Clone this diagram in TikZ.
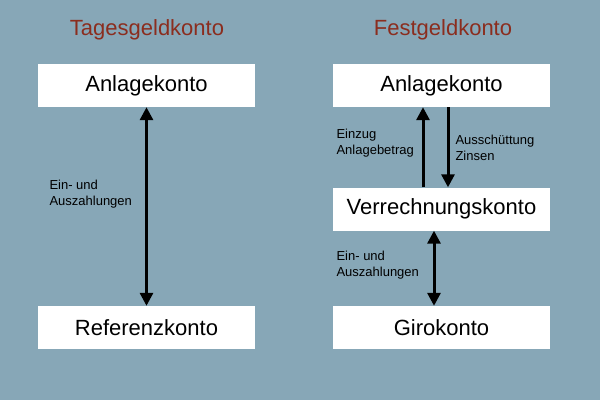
\documentclass[tikz,border=0pt]{standalone}
\usepackage{fontspec}
\setmainfont{Liberation Sans}
\usetikzlibrary{arrows.meta}
\definecolor{bg}{HTML}{87A7B7}
\definecolor{tit}{HTML}{8B2D1E}
\begin{document}
\begin{tikzpicture}[x=1pt,y=-1pt,
  box/.style={fill=white,draw=none,minimum width=217pt,minimum height=43pt,font=\fontsize{22}{26}\selectfont},
  ttl/.style={text=tit,font=\fontsize{22}{26}\selectfont},
  lbl/.style={font=\fontsize{13}{16}\selectfont,align=left,anchor=west},
  arr/.style={line width=3pt,-{Triangle[length=13pt,width=13pt]}},
  darr/.style={line width=3pt,{Triangle[length=13pt,width=13pt]}-{Triangle[length=13pt,width=13pt]}}]
\fill[bg] (0,0) rectangle (600,400);
\node[ttl] (t1) at (147,30) {Tagesgeldkonto};
\node[ttl] (t2) at (443,30) {Festgeldkonto};
\node[box] (a1) at (146.5,85.5) {Anlagekonto};
\node[box] (r1) at (146.5,327.5) {Referenzkonto};
\node[box] (a2) at (441.5,85.5) {Anlagekonto};
\node[box] (v2) at (441.5,209) {Verrechnungskonto};
\node[box] (g2) at (441.5,327.5) {Girokonto};
\draw[darr] (a1.south) -- (r1.north);
\node[lbl] (l1) at (46,194) {Ein- und\\Auszahlungen};
\draw[arr] (v2.north -| 423,0) -- (a2.south -| 423,0);
\draw[arr] (a2.south -| 448,0) -- (v2.north -| 448,0);
\draw[darr] (v2.south -| 434,0) -- (g2.north -| 434,0);
\node[lbl] (l2) at (333,143) {Einzug\\Anlagebetrag};
\node[lbl] (l3) at (452,148) {Ausschüttung\\Zinsen};
\node[lbl] (l4) at (333,265) {Ein- und\\Auszahlungen};
\end{tikzpicture}
\end{document}
